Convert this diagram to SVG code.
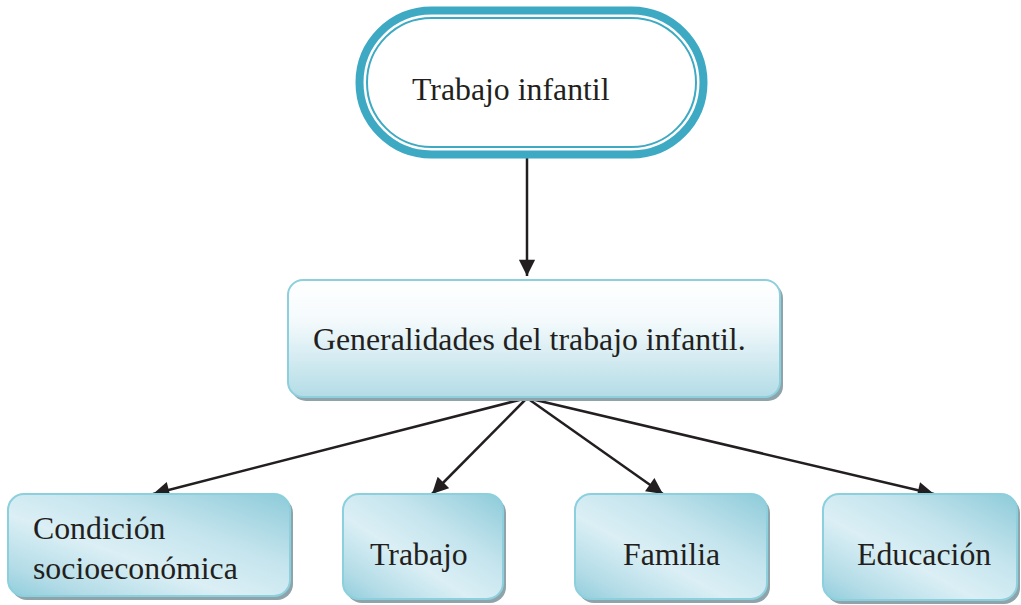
<svg xmlns="http://www.w3.org/2000/svg" width="1021" height="605" viewBox="0 0 1021 605">
<defs>
<style>
text{font-family:"Liberation Serif","Times New Roman",serif;font-size:31.8px;fill:#231f20}
.edge{stroke:#231f20;stroke-width:2.5;fill:none}
.shadow{fill:#8fa3aa}
.box{stroke:#8ccfdd;stroke-width:2}
</style>
<linearGradient id="gMid" x1="0" y1="0" x2="0" y2="1">
<stop offset="0" stop-color="#ffffff"/>
<stop offset="0.35" stop-color="#f4fafc"/>
<stop offset="1" stop-color="#b3dce6"/>
</linearGradient>
<linearGradient id="gLeaf" x1="1" y1="0" x2="0" y2="1">
<stop offset="0" stop-color="#8dcbd9"/>
<stop offset="0.35" stop-color="#c4e4ed"/>
<stop offset="0.6" stop-color="#dbeff5"/>
<stop offset="0.85" stop-color="#b3dce7"/>
<stop offset="1" stop-color="#90cddb"/>
</linearGradient>
<marker id="arr" viewBox="0 0 10 10" refX="10" refY="5" markerWidth="7" markerHeight="6.5" orient="auto" markerUnits="strokeWidth">
<path d="M0,0 L10,5 L0,10 z" fill="#231f20"/>
</marker>
</defs>

<g id="connectors">
<line class="edge" x1="527" y1="156" x2="527" y2="276" marker-end="url(#arr)"/>
<line class="edge" x1="527" y1="398" x2="153" y2="494" marker-end="url(#arr)"/>
<line class="edge" x1="527" y1="398" x2="432" y2="494" marker-end="url(#arr)"/>
<line class="edge" x1="527" y1="398" x2="663" y2="494" marker-end="url(#arr)"/>
<line class="edge" x1="527" y1="398" x2="934" y2="494" marker-end="url(#arr)"/>
</g>

<g id="node-trabajo-infantil">
<rect x="359.5" y="10.5" width="344" height="144" rx="72" ry="72" fill="#ffffff" stroke="#3ea9c3" stroke-width="8"/>
<rect x="367" y="18" width="329" height="129" rx="64.5" ry="64.5" fill="none" stroke="#3ea9c3" stroke-width="2"/>
<text x="412" y="100">Trabajo infantil</text>
</g>

<g id="node-generalidades">
<rect class="shadow" x="291" y="283" width="492" height="118" rx="15"/>
<rect class="box" x="288" y="280" width="492" height="117" rx="15" fill="url(#gMid)"/>
<text x="313" y="350">Generalidades del trabajo infantil.</text>
</g>

<g id="node-condicion">
<rect class="shadow" x="11" y="497" width="282" height="103" rx="16"/>
<rect class="box" x="8" y="494" width="282" height="102" rx="16" fill="url(#gLeaf)"/>
<text x="33" y="539">Condición</text>
<text x="33" y="579">socioeconómica</text>
</g>

<g id="node-trabajo">
<rect class="shadow" x="346" y="497" width="160" height="106" rx="16"/>
<rect class="box" x="343" y="494" width="160" height="105" rx="16" fill="url(#gLeaf)"/>
<text x="370" y="565">Trabajo</text>
</g>

<g id="node-familia">
<rect class="shadow" x="578" y="497" width="192" height="106" rx="16"/>
<rect class="box" x="575" y="494" width="192" height="105" rx="16" fill="url(#gLeaf)"/>
<text x="623" y="565">Familia</text>
</g>

<g id="node-educacion">
<rect class="shadow" x="826" y="497" width="194" height="107" rx="16"/>
<rect class="box" x="823" y="494" width="194" height="106" rx="16" fill="url(#gLeaf)"/>
<text x="857" y="565">Educación</text>
</g>
</svg>
